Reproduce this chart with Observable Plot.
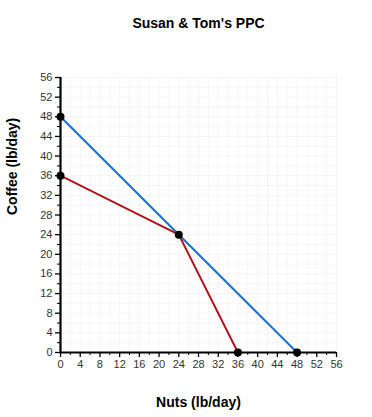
<!DOCTYPE html>
<html>
<head>
<meta charset="utf-8">
<script src="https://cdn.jsdelivr.net/npm/d3@7"></script>
<script src="https://cdn.jsdelivr.net/npm/@observablehq/plot@0.6"></script>
<style>
  html, body { margin: 0; padding: 0; background: #fff; }
  #chart svg { display: block; }
</style>
</head>
<body>
<div id="chart"></div>
<script>
// Data
const titleText = "Susan & Tom's PPC";
const xLabel = "Nuts (lb/day)";
const yLabel = "Coffee (lb/day)";
const majorTicks = [0, 4, 8, 12, 16, 20, 24, 28, 32, 36, 40, 44, 48, 52, 56];
const minorTicks = [2, 6, 10, 14, 18, 22, 26, 30, 34, 38, 42, 46, 50, 54];
const gridTicks = [0, 2, 4, 6, 8, 10, 12, 14, 16, 18, 20, 22, 24, 26, 28, 30, 32, 34, 36, 38, 40, 42, 44, 46, 48, 50, 52, 54, 56];
const tomNuts = [0, 48];
const tomCoffee = [48, 0];
const combinedNuts = [0, 24, 36];
const combinedCoffee = [36, 24, 0];
const pointNuts = [0, 0, 24, 36, 48];
const pointCoffee = [48, 36, 24, 0, 0];

const blueLine = tomNuts.map((x, i) => ({x, y: tomCoffee[i]}));
const redLine = combinedNuts.map((x, i) => ({x, y: combinedCoffee[i]}));
const points = pointNuts.map((x, i) => ({x, y: pointCoffee[i]}));

const chart = Plot.plot({
  width: 372,
  height: 417,
  marginLeft: 60,
  marginRight: 36,
  marginTop: 77,
  marginBottom: 65,
  style: {fontFamily: "'Liberation Sans', Arial, sans-serif", fontSize: "11px", background: "#fff"},
  x: {domain: [0, 56]},
  y: {domain: [0, 56]},
  marks: [
    Plot.gridX(gridTicks, {stroke: "#000", strokeOpacity: 0.045}),
    Plot.gridY(gridTicks, {stroke: "#000", strokeOpacity: 0.045}),
    Plot.axisX(majorTicks, {tickSize: 5, tickPadding: 3, fontSize: 11, fill: "#333", stroke: "#000", strokeWidth: 1.3, label: null}),
    Plot.axisX(minorTicks, {tickSize: 3, text: null, stroke: "#000", strokeWidth: 1, label: null}),
    Plot.axisY(majorTicks, {tickSize: 5, tickPadding: 3, fontSize: 11, fill: "#333", stroke: "#000", strokeWidth: 1.3, label: null}),
    Plot.axisY(minorTicks, {tickSize: 3, text: null, stroke: "#000", strokeWidth: 1, label: null}),
    Plot.line(blueLine, {x: "x", y: "y", stroke: "#1a6fcc", strokeWidth: 2}),
    Plot.line(redLine, {x: "x", y: "y", stroke: "#b5121b", strokeWidth: 2}),
    Plot.ruleX([0], {stroke: "#000", strokeWidth: 2.2}),
    Plot.ruleY([0], {stroke: "#000", strokeWidth: 2.2}),
    Plot.dot(points, {x: "x", y: "y", r: 4, fill: "#000", stroke: null}),
    Plot.text([titleText], {frameAnchor: "top", dy: -59, fontSize: 14, fontWeight: "bold", fill: "#000"}),
    Plot.text([xLabel], {frameAnchor: "bottom", dy: 54, fontSize: 14, fontWeight: "bold", fill: "#000"}),
    Plot.text([yLabel], {frameAnchor: "left", dx: -48, rotate: -90, fontSize: 14, fontWeight: "bold", fill: "#000"})
  ]
});
document.getElementById("chart").appendChild(chart);
</script>
</body>
</html>
